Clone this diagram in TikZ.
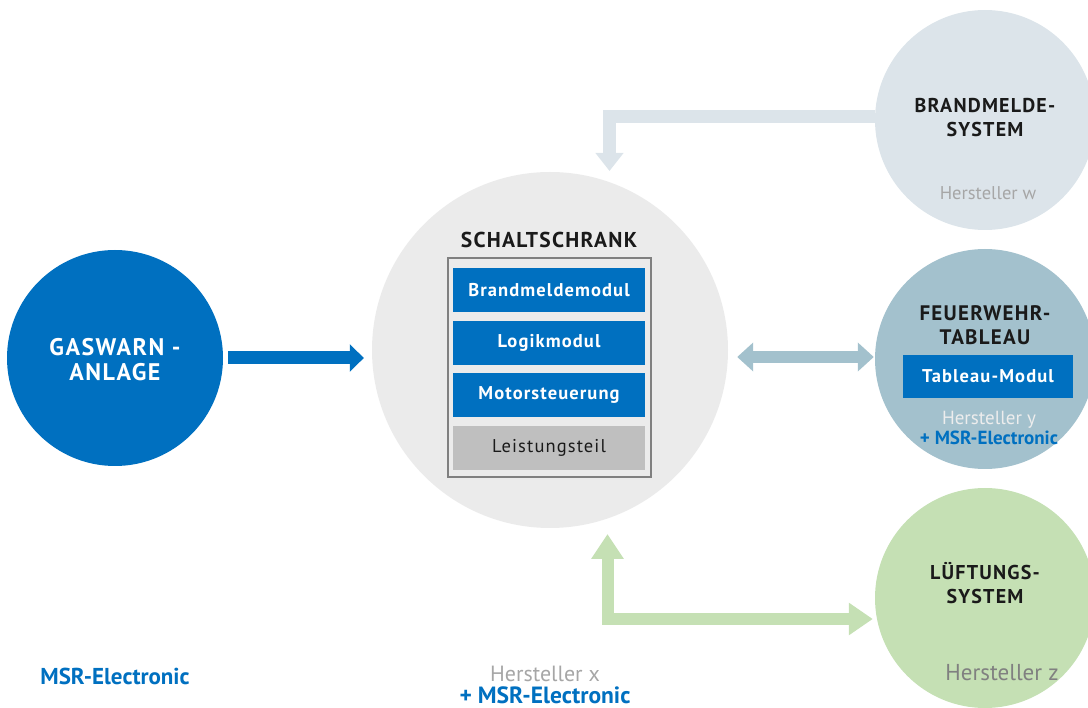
\documentclass[tikz,border=0pt]{standalone}
\usepackage{fontspec}
\setmainfont{PT Sans}
\newfontfamily\widefont[LetterSpace=6]{PT Sans}
\usetikzlibrary{arrows.meta,positioning}

\definecolor{msrblue}{RGB}{0,112,192}
\definecolor{scgrey}{RGB}{235,235,235}
\definecolor{bmsgrey}{RGB}{220,228,234}
\definecolor{fwtblue}{RGB}{163,193,205}
\definecolor{luegreen}{RGB}{197,224,180}
\definecolor{txtgrey}{RGB}{166,166,166}
\definecolor{darkgrey}{RGB}{128,128,128}
\definecolor{boxgrey}{RGB}{191,191,191}
\definecolor{titleblack}{RGB}{26,26,26}

\tikzstyle{system}=[circle, inner sep=0pt, minimum size=220pt]
\tikzstyle{title}=[font=\widefont\bfseries\fontsize{20}{24}\selectfont, align=center, text=titleblack]
\tikzstyle{maker}=[font=\fontsize{18.5}{22}\selectfont, align=center, text=txtgrey]
\tikzstyle{msr}=[font=\bfseries\fontsize{23}{26}\selectfont, text=msrblue]
\tikzstyle{modul}=[fill=msrblue, text=white, inner sep=0pt, minimum width=192pt, minimum height=44pt,
  font=\widefont\bfseries\fontsize{18.5}{22}\selectfont]
\tikzstyle{flow}=[line width=13pt, line join=miter]

\begin{document}
\begin{tikzpicture}[x=1pt,y=-1pt]
	\useasboundingbox (0,0) rectangle (1088,708);
	% the systems
	\node[system, fill=msrblue, minimum size=216pt] (gwa) at (115,358) {};
	\node[system, fill=scgrey, minimum size=356pt] (sc) at (550,350) {};
	\node[system, fill=bmsgrey] (bms) at (985,120) {};
	\node[system, fill=fwtblue] (fwt) at (985,359) {};
	\node[system, fill=luegreen] (lue) at (985,598) {};

	% schaltschrank
	\node[draw=darkgrey, line width=2pt, inner sep=0pt, minimum width=203pt, minimum height=219pt] (box) at (549.5,367.5) {};
	\node[title, font=\widefont\bfseries\fontsize{21.5}{24}\selectfont] (sctitle) at (549,240) {SCHALTSCHRANK};
	\node[modul] (bmm) at (549,290.5) {Brandmeldemodul};
	\node[modul, below=8pt of bmm] (lgm) {Logikmodul};
	\node[modul, below=8pt of lgm] (mst) {Motorsteuerung};
	\node[modul, below=8pt of mst, fill=boxgrey, text=titleblack, font=\widefont\fontsize{18.5}{22}\selectfont] (lst) {Leistungsteil};
	\node[maker, font=\fontsize{22}{22}\selectfont] (scmaker) at (545,685) {Hersteller x\\\textcolor{msrblue}{\bfseries\fontsize{23.5}{22}\selectfont + MSR-Electronic}};

	% gaswarnanlage
	\node[title, text=white, font=\widefont\bfseries\fontsize{24}{25}\selectfont] (gwatitle) at (115,360) {GASWARN -\\ANLAGE};
	\node[msr] (gwamaker) at (115,676) {MSR-Electronic};

	% brandmeldesystem
	\node[title] (bmstitle) at (985,118) {BRANDMELDE-\\SYSTEM};
	\node[maker] (bmsmaker) at (988,193) {Hersteller w};

	% feuerwehrtableau
	\node[title, font=\widefont\bfseries\fontsize{21}{24}\selectfont] (fwttitle) at (985,325) {FEUERWEHR-\\TABLEAU};
	\node[modul, minimum width=170pt, minimum height=43pt] (tbm) at (988,376.5) {Tableau-Modul};
	\node[maker, text=white!93!black, font=\fontsize{19}{20}\selectfont] (fwtmaker) at (989,428) {Hersteller y\\\textcolor{msrblue}{\bfseries + MSR-Electronic}};

	% lueftungssystem
	\node[title] (luetitle) at (985,583) {LÜFTUNGS-\\SYSTEM};
	\node[maker, text=darkgrey, font=\fontsize{23}{24}\selectfont] (luemaker) at (1002,673) {Hersteller z};

	% connections
	\coordinate (bmsin) at (609.5,171);
	\coordinate (luein) at (607.5,534);
	\draw[flow, msrblue, -{Triangle[width=27pt,length=14pt]}, shorten <=5pt, shorten >=8pt]
	(gwa.east) -- (gwa.east -| sc.west);
	\draw[flow, bmsgrey, -{Triangle[width=27pt,length=18pt]}]
	([yshift=3pt]bms.west) -| (bmsin);
	\draw[flow, fwtblue, line width=12pt, {Triangle[width=28pt,length=16pt]}-{Triangle[width=28pt,length=16pt]}, shorten <=9pt, shorten >=1pt]
	([yshift=2pt]fwt.west -| sc.east) -- ([yshift=2pt]fwt.west);
	\draw[flow, luegreen, line width=12pt, {Triangle[width=31pt,length=25pt]}-{Triangle[width=31pt,length=24pt]}]
	(luein) |- ([yshift=-21pt,xshift=-2pt]lue.west);
\end{tikzpicture}
\end{document}
